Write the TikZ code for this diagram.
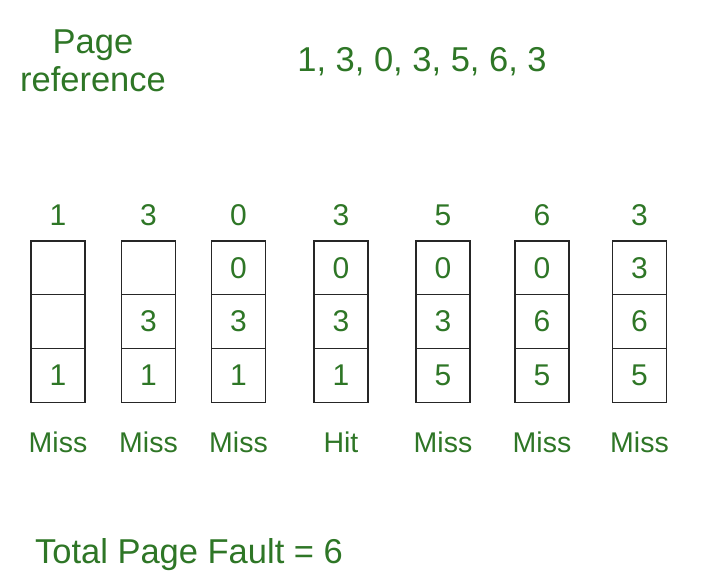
\documentclass[tikz,border=0pt]{standalone}
\usepackage{fontspec}
\setmainfont{Liberation Sans}
\definecolor{pagegreen}{RGB}{46,118,38}
\tikzset{
  heading/.style={text=pagegreen, align=center, inner sep=0pt, font=\fontsize{34.5}{38}\selectfont},
  request/.style={text=pagegreen, inner sep=0pt, font=\fontsize{30}{30}\selectfont},
  frame/.style={draw=black!85, line width=1.2pt, minimum width=54pt, minimum height=53.7pt,
    inner sep=0pt, outer sep=0pt, text=pagegreen, font=\fontsize{30}{30}\selectfont},
  result/.style={text=pagegreen, inner sep=0pt, font=\fontsize{28.5}{28.5}\selectfont}
}
\begin{document}
\begin{tikzpicture}[x=1pt,y=-1pt]
  \useasboundingbox (0,0) rectangle (721,583);

  % Header
  \node[heading] (title) at (93,61) {Page\\reference};
  \node[heading] (string) at (422,62) {1, 3, 0, 3, 5, 6, 3};

  % One column of frames per request
  \foreach \x/\col/\req/\top/\mid/\bot/\res in {
      58/c1/1/{}/{}/1/Miss,
      148.5/c2/3/{}/3/1/Miss,
      238.5/c3/0/0/3/1/Miss,
      341/c4/3/0/3/1/Hit,
      443/c5/5/0/3/5/Miss,
      542/c6/6/0/6/5/Miss,
      639.5/c7/3/3/6/5/Miss}
  {
    \node[request] (\col req) at (\x,215) {\req};
    \node[frame] (\col top) at (\x,267.85) {\top};
    \node[frame] (\col mid) at (\x,321.55) {\mid};
    \node[frame] (\col bot) at (\x,375.25) {\bot};
    \node[result] (\col res) at (\x,442) {\res};
  }

  % Summary
  \node[heading] (total) at (189,555) {Total Page Fault = 6};

\end{tikzpicture}
\end{document}
